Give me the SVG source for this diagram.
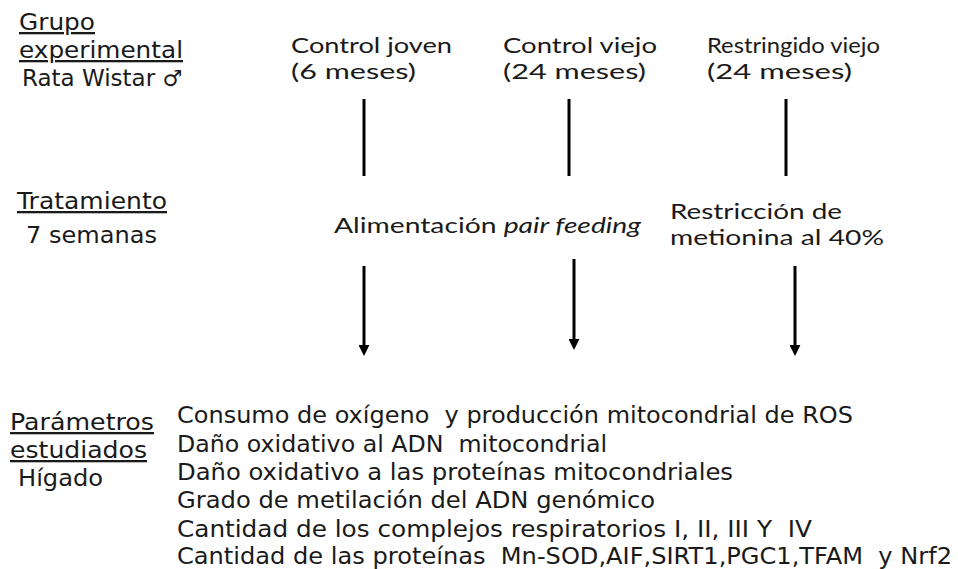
<svg xmlns="http://www.w3.org/2000/svg" width="958" height="569" viewBox="0 0 958 569">
<style>
text{fill:#1a1a1a;white-space:pre}
.v{font-family:"DejaVu Sans","Liberation Sans",sans-serif;font-size:23px}
.u{font-family:Lato,"Open Sans",sans-serif;font-size:21px}
.h{text-decoration:underline}
.ln{stroke:#000;stroke-width:3;fill:none}
</style>
<defs>
<marker id="ah" markerUnits="userSpaceOnUse" markerWidth="11" markerHeight="11" refX="1" refY="5" orient="auto" viewBox="0 0 10 10">
<path d="M0,0 L10,5 L0,10 z" fill="#000"/>
</marker>
</defs>
<g id="hdr-grupo">
<text class="v h" x="19" y="30" textLength="76" lengthAdjust="spacingAndGlyphs">Grupo</text>
<text class="v h" x="19" y="58" textLength="164" lengthAdjust="spacingAndGlyphs">experimental</text>
<text class="v" x="22" y="86">Rata Wistar <tspan style="font-family:'DejaVu Sans',sans-serif;font-size:22px">♂</tspan></text>
</g>
<g id="g-cj">
<text class="u" x="291" y="53" textLength="161" lengthAdjust="spacingAndGlyphs">Control joven</text>
<text class="u" x="291" y="79" textLength="125" lengthAdjust="spacingAndGlyphs">(6 meses)</text>
</g>
<g id="g-cv">
<text class="u" x="503" y="53" textLength="154" lengthAdjust="spacingAndGlyphs">Control viejo</text>
<text class="u" x="503" y="79" textLength="143" lengthAdjust="spacingAndGlyphs">(24 meses)</text>
</g>
<g id="g-rv">
<text class="u" x="707" y="53" textLength="173" lengthAdjust="spacingAndGlyphs">Restringido viejo</text>
<text class="u" x="707" y="79" textLength="145" lengthAdjust="spacingAndGlyphs">(24 meses)</text>
</g>
<g id="hdr-trat">
<text class="v h" x="17" y="209" textLength="150" lengthAdjust="spacingAndGlyphs">Tratamiento</text>
<text class="v" x="26" y="243" textLength="131" lengthAdjust="spacingAndGlyphs">7 semanas</text>
</g>
<g id="t-pair">
<text class="u" x="334" y="233" textLength="307" lengthAdjust="spacingAndGlyphs">Alimentación <tspan font-style="italic">pair feeding</tspan></text>
</g>
<g id="t-restr">
<text class="u" x="670" y="219" textLength="172" lengthAdjust="spacingAndGlyphs">Restricción de</text>
<text class="u" x="670" y="245" textLength="214" lengthAdjust="spacingAndGlyphs">metionina al 40%</text>
</g>
<g id="hdr-param">
<text class="v h" x="10" y="430" textLength="144" lengthAdjust="spacingAndGlyphs">Parámetros</text>
<text class="v h" x="10" y="458" textLength="137" lengthAdjust="spacingAndGlyphs">estudiados</text>
<text class="v" x="18" y="486" textLength="85" lengthAdjust="spacingAndGlyphs">Hígado</text>
</g>
<g id="params">
<text class="v" x="177" y="423" textLength="676" lengthAdjust="spacingAndGlyphs">Consumo de oxígeno  y producción mitocondrial de ROS</text>
<text class="v" x="177" y="452" textLength="430" lengthAdjust="spacingAndGlyphs">Daño oxidativo al ADN  mitocondrial</text>
<text class="v" x="177" y="480" textLength="556" lengthAdjust="spacingAndGlyphs">Daño oxidativo a las proteínas mitocondriales</text>
<text class="v" x="177" y="508" textLength="478" lengthAdjust="spacingAndGlyphs">Grado de metilación del ADN genómico</text>
<text class="v" x="177" y="537" textLength="635" lengthAdjust="spacingAndGlyphs">Cantidad de los complejos respiratorios I, II, III Y  IV</text>
<text class="v" x="177" y="564" textLength="775" lengthAdjust="spacingAndGlyphs">Cantidad de las proteínas  Mn-SOD,AIF,SIRT1,PGC1,TFAM  y Nrf2</text>
</g>
<g id="connectors">
<line class="ln" x1="364" y1="99" x2="364" y2="176"/>
<line class="ln" x1="569" y1="99" x2="569" y2="176"/>
<line class="ln" x1="786" y1="99" x2="786" y2="176"/>
<line class="ln" x1="364" y1="266" x2="364" y2="346" marker-end="url(#ah)"/>
<line class="ln" x1="574" y1="259" x2="574" y2="340" marker-end="url(#ah)"/>
<line class="ln" x1="795" y1="266" x2="795" y2="346" marker-end="url(#ah)"/>
</g>
</svg>
